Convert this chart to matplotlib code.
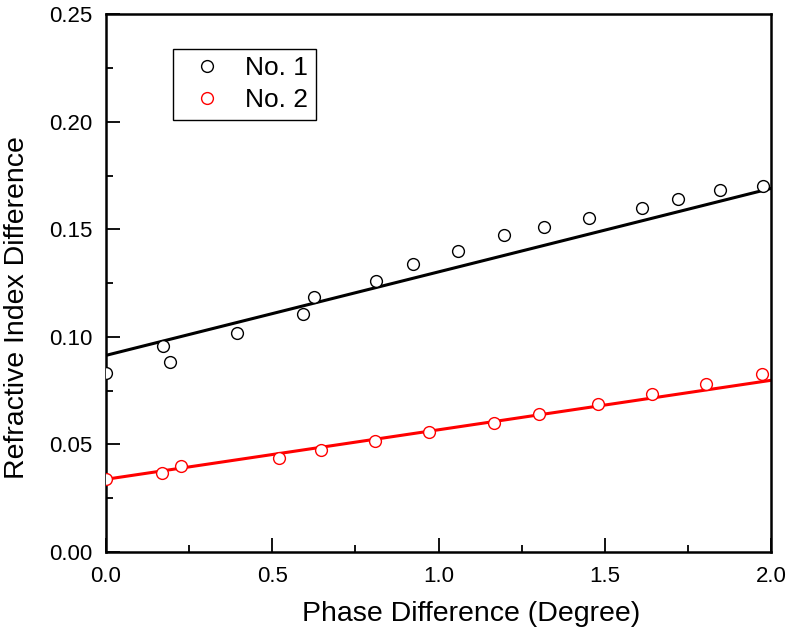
import numpy as np
import matplotlib.pyplot as plt
from matplotlib.ticker import MultipleLocator

plt.rcParams['font.family'] = ['Liberation Sans', 'DejaVu Sans']

# sample No. 1 (black)
x1 = [0.0, 0.172, 0.193, 0.395, 0.593, 0.626, 0.811, 0.924, 1.060, 1.198,
      1.317, 1.452, 1.613, 1.720, 1.847, 1.977]
y1 = [0.0833, 0.0957, 0.0881, 0.1016, 0.1104, 0.1185, 0.1259, 0.1337, 0.1399,
      0.1475, 0.1510, 0.1553, 0.1597, 0.1643, 0.1684, 0.1702]

# sample No. 2 (red)
x2 = [0.0, 0.169, 0.226, 0.519, 0.648, 0.809, 0.970, 1.167, 1.303, 1.480,
      1.641, 1.805, 1.972]
y2 = [0.0338, 0.0369, 0.0401, 0.0438, 0.0475, 0.0514, 0.0556, 0.0599, 0.0643,
      0.0688, 0.0734, 0.0782, 0.0827]

# linear fit lines (value at x=0 and x=2)
fit_x = [0.0, 2.0]
fit1 = [0.0914, 0.1690]
fit2 = [0.0338, 0.0798]

fig = plt.figure(figsize=(7.87, 6.32), dpi=100)
ax = fig.add_axes([0.1347, 0.1266, 0.845, 0.851])

ax.plot(fit_x, fit1, color='black', lw=2.2, zorder=2)
ax.plot(fit_x, fit2, color='red', lw=2.2, zorder=2)
ax.plot(x1, y1, 'o', mfc='white', mec='black', mew=1.0, ms=8.5, label='No. 1', zorder=3)
ax.plot(x2, y2, 'o', mfc='white', mec='red', mew=1.0, ms=8.5, label='No. 2', zorder=3)

ax.set_xlim(0, 2.0)
ax.set_ylim(0, 0.25)
ax.xaxis.set_major_locator(MultipleLocator(0.5))
ax.xaxis.set_minor_locator(MultipleLocator(0.25))
ax.yaxis.set_major_locator(MultipleLocator(0.05))
ax.yaxis.set_minor_locator(MultipleLocator(0.025))
ax.xaxis.set_major_formatter(plt.FormatStrFormatter('%.1f'))
ax.yaxis.set_major_formatter(plt.FormatStrFormatter('%.2f'))
ax.tick_params(which='both', direction='in', width=1.3, labelsize=16, pad=10)
ax.tick_params(which='major', length=10)
ax.tick_params(which='minor', length=5)
for s in ax.spines.values():
    s.set_linewidth(1.8)

ax.set_xlabel('Phase Difference (Degree)', fontsize=20.5)
ax.set_ylabel('Refractive Index Difference', fontsize=20.5)
ax.xaxis.set_label_coords(0.549, -0.092)
ax.yaxis.set_label_coords(-0.115, 0.455)

leg = ax.legend(loc='upper left', bbox_to_anchor=(0.1003, 0.936), fontsize=19,
                fancybox=False, edgecolor='black', framealpha=1,
                borderaxespad=0, handletextpad=0.45, borderpad=0.3,
                labelspacing=0.3, handlelength=2.0)
leg.get_frame().set_linewidth(1.0)

fig.savefig('out.png', dpi=100)
